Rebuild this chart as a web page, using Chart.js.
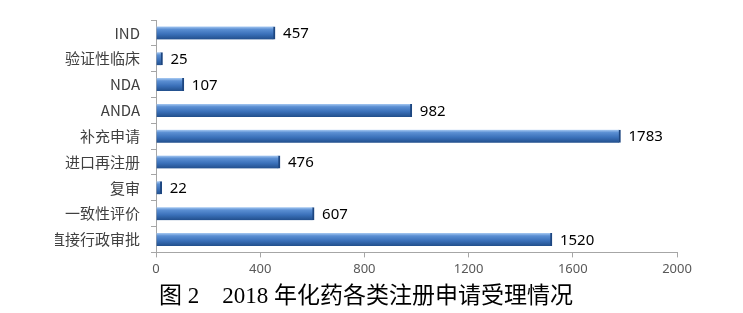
<!DOCTYPE html>
<html>
<head>
<meta charset="utf-8">
<script src="https://cdn.jsdelivr.net/npm/chart.js@4/dist/chart.umd.min.js"></script>
<style>
  body { margin: 0; background: #fff; }
  #wrap { width: 743px; height: 313px; }
</style>
</head>
<body>
<div id="wrap"><canvas id="barChart"></canvas></div>
<script>
const categories = ["IND", "验证性临床", "NDA", "ANDA", "补充申请", "进口再注册", "复审", "一致性评价", "直接行政审批"];
const counts = [457, 25, 107, 982, 1783, 476, 22, 607, 1520];
const xTicks = [0, 400, 800, 1200, 1600, 2000];
const caption = "图 2    2018 年化药各类注册申请受理情况";

const BAR_H = 13;

// vertical gradient so each bar looks like a tube
function barFill(c) {
  const chart = c.chart;
  if (!chart.chartArea || !chart.scales.y) return "#3b72bb";
  const y = chart.scales.y.getPixelForValue(c.dataIndex);
  const g = chart.ctx.createLinearGradient(0, y - BAR_H / 2, 0, y + BAR_H / 2);
  g.addColorStop(0, "#a9cbf3");
  g.addColorStop(0.22, "#5b8fd3");
  g.addColorStop(0.6, "#3a70b9");
  g.addColorStop(1, "#224f8c");
  return g;
}

const valueLabels = {
  id: "valueLabels",
  afterDatasetsDraw(chart) {
    const ctx = chart.ctx;
    const meta = chart.getDatasetMeta(0);
    ctx.save();
    ctx.font = "15px 'Noto Sans', sans-serif";
    ctx.fillStyle = "#000";
    ctx.textAlign = "left";
    ctx.textBaseline = "middle";
    meta.data.forEach((bar, i) => {
      ctx.fillText(String(counts[i]), bar.x + 8, bar.y + 1);
    });
    ctx.restore();
  }
};

const ctx = document.getElementById("barChart").getContext("2d");
new Chart(ctx, {
  type: "bar",
  data: {
    labels: categories,
    datasets: [
      {
        data: counts,
        backgroundColor: barFill,
        borderColor: "#1d4680",
        borderWidth: { top: 0, bottom: 0, left: 0, right: 2 },
        borderSkipped: false,
        barThickness: BAR_H,
      },
    ],
  },
  options: {
    indexAxis: "y",
    responsive: true,
    maintainAspectRatio: false,
    animation: false,
    layout: { padding: { left: 55, right: 66, top: 11, bottom: 2 } },
    plugins: {
      legend: { display: false },
      tooltip: { enabled: false },
      title: {
        display: true,
        text: caption,
        position: "bottom",
        color: "#000",
        font: { family: "'Liberation Serif', 'Noto Sans CJK SC', serif", size: 23, weight: "normal" },
        padding: { top: 0, bottom: 0 },
      },
    },
    scales: {
      x: {
        min: 0,
        max: 2000,
        afterBuildTicks: (s) => { s.ticks = xTicks.map((v) => ({ value: v })); },
        afterFit: (s) => { s.height = 31; },
        border: { color: "#a6a6a6", width: 1 },
        grid: { drawOnChartArea: false, drawTicks: true, tickLength: 5, color: "#a6a6a6" },
        ticks: {
          color: "#595959",
          font: { family: "'Noto Sans', sans-serif", size: 13 },
          padding: 4,
          maxRotation: 0,
          callback: (v) => String(v),
        },
      },
      y: {
        afterFit: (s) => { s.width = 101; },
        border: { color: "#a6a6a6", width: 1 },
        grid: { drawOnChartArea: false, drawTicks: true, tickLength: 5, color: "#a6a6a6", offset: true },
        ticks: {
          color: "#404040",
          font: { family: "'Noto Sans CJK SC', 'Noto Sans', sans-serif", size: 15 },
          padding: 11,
        },
      },
    },
  },
  plugins: [valueLabels],
});
</script>
</body>
</html>
